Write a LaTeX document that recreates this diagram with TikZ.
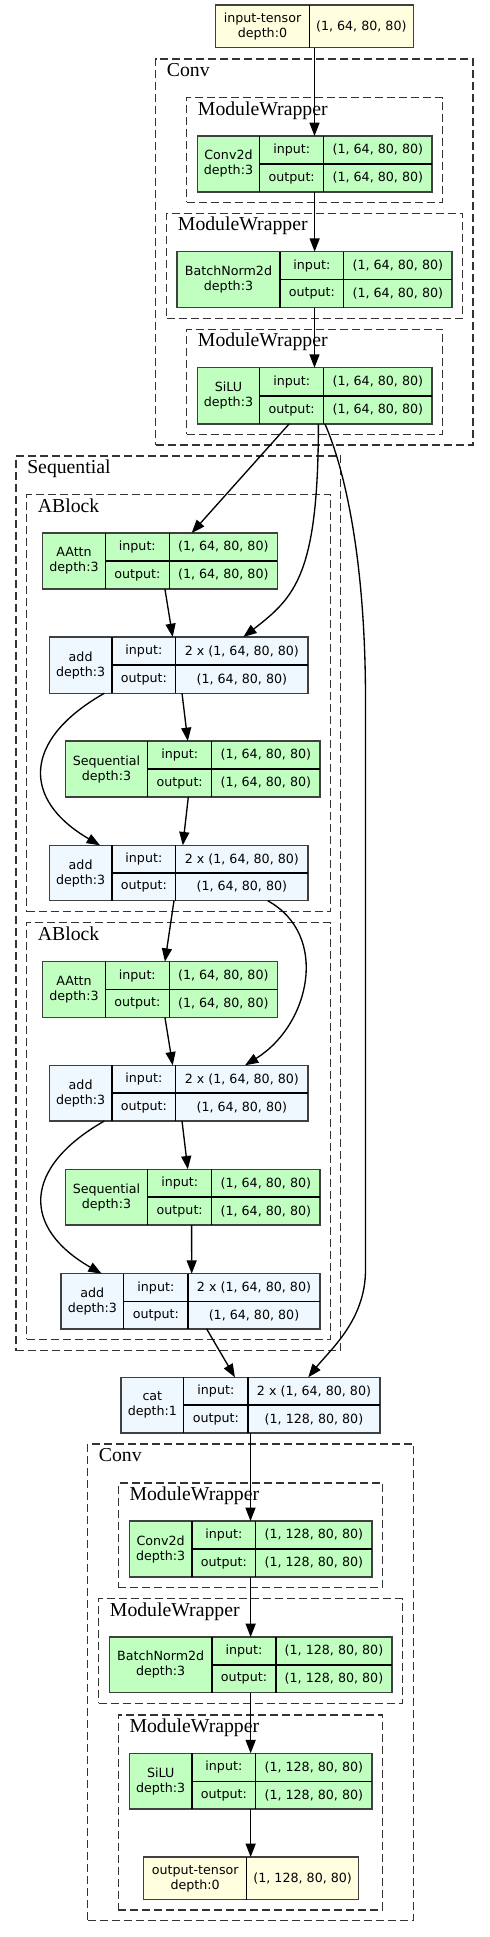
\documentclass[tikz,border=0pt]{standalone}
\usepackage{fontspec}
\newfontfamily\nodefont{DejaVu Sans}
\newfontfamily\clfont{Liberation Serif}
\usetikzlibrary{calc,fit,arrows.meta}
\definecolor{grn}{HTML}{C1FFC1}
\definecolor{ylw}{HTML}{FFFFE0}
\definecolor{blu}{HTML}{F0F8FF}
\tikzset{
 recbox/.style={draw=black!75, line width=1pt, inner sep=0pt, outer sep=0pt},
 cellline/.style={draw=black, line width=1pt},
 celltext/.style={font=\nodefont\fontsize{9.5}{11.25}\selectfont, inner sep=0pt, align=center, text=black},
 clusterbox/.style={draw=black!80, line width=1pt, dash pattern=on 6pt off 3pt, inner sep=0pt},
 cllabel/.style={font=\clfont\fontsize{14.8}{16}\selectfont, inner sep=0pt, anchor=base west},
 edge/.style={draw=black, line width=1pt, -{Triangle[length=10pt,width=7.5pt]}},
}
\newcommand{\recnode}[9]{%
  \node[recbox, fill=#2, fit={(#3,#7)(#6,#8)}] (#1) {};
  \draw[cellline] (#4,#7) -- (#4,#8);
  \draw[cellline] (#5,#7) -- (#5,#8);
  \draw[cellline] (#4,{(#7+#8)/2}) -- (#6,{(#7+#8)/2});
  \node[celltext] (#1-l) at ({(#3+#4)/2},{(#7+#8)/2}) {#9};
  \node[celltext] (#1-i) at ({(#4+#5)/2},{(3*#7+#8)/4}) {input:};
  \node[celltext] (#1-o) at ({(#4+#5)/2},{(#7+3*#8)/4}) {output:};
  \node[celltext] (#1-iv) at ({(#5+#6)/2},{(3*#7+#8)/4}) {\inval};
  \node[celltext] (#1-ov) at ({(#5+#6)/2},{(#7+3*#8)/4}) {\outval};
}
\newcommand{\tensnode}[8]{%
  \node[recbox, fill=ylw, fit={(#2,#5)(#4,#6)}] (#1) {};
  \draw[cellline] (#3,#5) -- (#3,#6);
  \node[celltext] (#1-l) at ({(#2+#3)/2},{(#5+#6)/2}) {#7};
  \node[celltext] (#1-v) at ({(#3+#4)/2},{(#5+#6)/2}) {#8};
}
\newcommand{\clus}[6]{%
  \node[clusterbox, fit={(#2,#3)(#4,#5)}] (#1) {};
  \node[cllabel] (#1-lab) at ({#2+11},{#3+17.5}) {#6};
}
\begin{document}
\begin{tikzpicture}[x=0.75pt,y=-0.75pt]
\fill[white] (0,0) rectangle (489,1937);
\useasboundingbox (0,0) rectangle (489,1937);
% clusters
\clus{clconvA}{155.7}{59}{473}{445}{Conv}
\clus{clmwA}{186.7}{97.7}{442.7}{202.3}{ModuleWrapper}
\clus{clmwB}{166.7}{213.3}{462.7}{318.3}{ModuleWrapper}
\clus{clmwC}{186.7}{329.3}{442.7}{434.3}{ModuleWrapper}
\clus{clseq}{16}{456}{340.7}{1350.7}{Sequential}
\clus{clabA}{26.7}{494.7}{330.7}{911.7}{ABlock}
\clus{clabB}{26.7}{922.7}{330.7}{1339.3}{ABlock}
\clus{clconvB}{87.7}{1444}{413.3}{1920.7}{Conv}
\clus{clmwD}{118.3}{1483}{382.7}{1587.7}{ModuleWrapper}
\clus{clmwE}{98.7}{1598.7}{402.7}{1703.3}{ModuleWrapper}
\clus{clmwF}{118.3}{1715}{382.7}{1910}{ModuleWrapper}
% nodes
\tensnode{inp}{215.7}{309.3}{413.3}{5}{47.7}{input-tensor\\depth:0}{(1, 64, 80, 80)}
\def\inval{(1, 64, 80, 80)}\def\outval{(1, 64, 80, 80)}
\recnode{conv2d}{grn}{197.3}{259.7}{323.7}{432}{136}{192}{Conv2d\\depth:3}
\recnode{bn}{grn}{177}{280}{343.7}{452}{251.7}{307.7}{BatchNorm2d\\depth:3}
\recnode{silu}{grn}{197.3}{259.7}{323.7}{432}{367.7}{424}{SiLU\\depth:3}
\recnode{aattn1}{grn}{42.7}{105.3}{169.3}{277.3}{533}{589}{AAttn\\depth:3}
\recnode{seq1}{grn}{65.3}{147.7}{211.7}{320}{741}{797}{Sequential\\depth:3}
\recnode{aattn2}{grn}{42.7}{105.3}{169.3}{277.3}{961.7}{1017.3}{AAttn\\depth:3}
\recnode{seq2}{grn}{65.3}{147.7}{211.7}{320}{1169.3}{1225}{Sequential\\depth:3}
\def\inval{2 x (1, 64, 80, 80)}\def\outval{(1, 64, 80, 80)}
\recnode{add1}{blu}{49.3}{112}{175.7}{308}{637}{693.3}{add\\depth:3}
\recnode{add2}{blu}{49.3}{112}{175.7}{308}{845.3}{900.7}{add\\depth:3}
\recnode{add3}{blu}{49.3}{112}{175.7}{308}{1065.3}{1121}{add\\depth:3}
\recnode{add4}{blu}{61}{123.7}{188}{320}{1273.7}{1329}{add\\depth:3}
\def\inval{2 x (1, 64, 80, 80)}\def\outval{(1, 128, 80, 80)}
\recnode{cat}{blu}{121}{183.7}{248}{380}{1377.3}{1433}{cat\\depth:1}
\def\inval{(1, 128, 80, 80)}\def\outval{(1, 128, 80, 80)}
\recnode{conv2db}{grn}{129.3}{192}{255.7}{372}{1521}{1577}{Conv2d\\depth:3}
\recnode{bnb}{grn}{109.3}{212}{276}{392}{1637}{1692.7}{BatchNorm2d\\depth:3}
\recnode{silub}{grn}{129.3}{192}{255.7}{372}{1753.3}{1809}{SiLU\\depth:3}
\tensnode{outp}{143.7}{246.7}{358.7}{1857}{1899.7}{output-tensor\\depth:0}{(1, 128, 80, 80)}
% edges
\draw[edge] (inp.south) -- (inp.south |- conv2d.north);
\draw[edge] (conv2d.south) -- (conv2d.south |- bn.north);
\draw[edge] (bn.south) -- (bn.south |- silu.north);
\draw[edge] ($(silu.south west)!0.391!(silu.south east)$) -- ($(aattn1.north west)!0.635!(aattn1.north east)$);
\draw[edge] ($(silu.south west)!0.516!(silu.south east)$) .. controls (318.3,574) and (295.3,597) .. ($(add1.north west)!0.75!(add1.north east)$);
\draw[edge] ($(silu.south west)!0.544!(silu.south east)$) .. controls (345,470) and (365.5,560) .. (365.5,700) -- (365.5,1270) .. controls (365.5,1320) and (330,1350) .. ($(cat.north west)!0.723!(cat.north east)$);
\draw[edge] ($(aattn1.south west)!0.521!(aattn1.south east)$) -- ($(add1.north west)!0.477!(add1.north east)$);
\draw[edge] ($(add1.south west)!0.513!(add1.south east)$) -- ($(seq1.north west)!0.481!(seq1.north east)$);
\draw[edge] ($(add1.south west)!0.2126!(add1.south east)$) .. controls (22,740) and (22,800) .. ($(add2.north west)!0.196!(add2.north east)$);
\draw[edge] ($(seq1.south west)!0.483!(seq1.south east)$) -- ($(add2.north west)!0.516!(add2.north east)$);
\draw[edge] ($(add2.south west)!0.482!(add2.south east)$) -- ($(aattn2.north west)!0.521!(aattn2.north east)$);
\draw[edge] ($(add2.south west)!0.844!(add2.south east)$) .. controls (330,935) and (310,1025) .. ($(add3.north west)!0.7565!(add3.north east)$);
\draw[edge] ($(aattn2.south west)!0.521!(aattn2.south east)$) -- ($(add3.north west)!0.477!(add3.north east)$);
\draw[edge] ($(add3.south west)!0.513!(add3.south east)$) -- ($(seq2.north west)!0.481!(seq2.north east)$);
\draw[edge] ($(add3.south west)!0.2126!(add3.south east)$) .. controls (22,1168) and (22,1228) .. ($(add4.north west)!0.157!(add4.north east)$);
\draw[edge] ($(seq2.south west)!0.496!(seq2.south east)$) -- ($(add4.north west)!0.5046!(add4.north east)$);
\draw[edge] ($(add4.south west)!0.5625!(add4.south east)$) -- ($(cat.north west)!0.44!(cat.north east)$);
\draw[edge] (cat.south) -- (cat.south |- conv2db.north);
\draw[edge] (conv2db.south) -- (conv2db.south |- bnb.north);
\draw[edge] (bnb.south) -- (bnb.south |- silub.north);
\draw[edge] (silub.south) -- (silub.south |- outp.north);
\end{tikzpicture}
\end{document}
